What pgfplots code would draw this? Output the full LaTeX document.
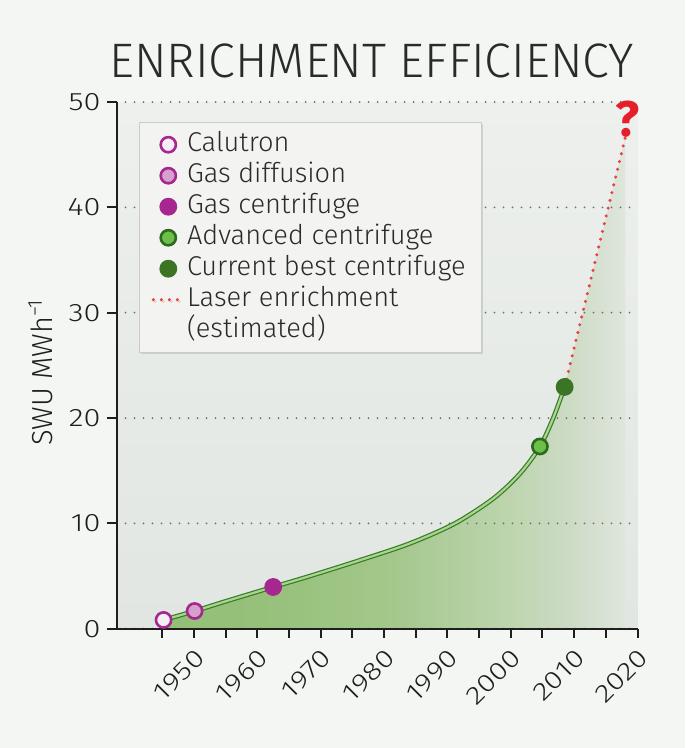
\documentclass[border=0pt]{standalone}
\usepackage{fontspec}
\setmainfont{Fira Sans}[UprightFont={* Light}, BoldFont={* Bold}]
\newfontfamily\tickfont{Fira Sans Light}[FakeStretch=1.22]
\usepackage{pgfplots}
\pgfplotsset{compat=1.18}
\usetikzlibrary{shadows}
\definecolor{pagebg}{HTML}{F4F6F3}
\definecolor{plottop}{HTML}{EDF0ED}
\definecolor{plotbot}{HTML}{E1E6E2}
\definecolor{g0}{HTML}{93BF77}
\definecolor{g1}{HTML}{97C17C}
\definecolor{g2}{HTML}{A4C88C}
\definecolor{g3}{HTML}{BDD5AE}
\definecolor{g4}{HTML}{CDDBC5}
\definecolor{g5}{HTML}{DFE6DD}
\definecolor{cdark}{HTML}{3B7A2A}
\definecolor{clight}{HTML}{A8D68C}
\definecolor{purp}{HTML}{A5278F}
\definecolor{purplight}{HTML}{D5A0CB}
\definecolor{purpwhite}{HTML}{F6EEF6}
\definecolor{advfill}{HTML}{6CC04A}
\definecolor{advdraw}{HTML}{2D6A1F}
\definecolor{bestfill}{HTML}{3B7425}
\definecolor{laser}{HTML}{E8413F}
\definecolor{qmark}{HTML}{E5202A}
\definecolor{gridc}{HTML}{707070}
\definecolor{axc}{HTML}{1E1E1E}
\definecolor{legbg}{HTML}{F3F4F2}
\definecolor{legdraw}{HTML}{C9CCC9}
\definecolor{legtext}{HTML}{2A2A2A}
\pagecolor{pagebg}%
\pgfdeclarehorizontalshading{greenfade}{100bp}{color(0bp)=(g0); color(25bp)=(g0); color(37.5bp)=(g1); color(50bp)=(g2); color(62.5bp)=(g3); color(69bp)=(g4); color(75bp)=(g5); color(100bp)=(g5)}
\pgfplotsset{
  markleg/.style={legend image code/.code={\draw[##1] plot coordinates {(7.5pt,0pt)};}},
  laserleg/.style={legend image code/.code={\draw[##1] (0pt,0pt) -- (14pt,0pt);}},
  laserstyle/.style={draw=laser, line width=1.7pt, line cap=round, dash pattern=on 0pt off 4pt},
}
\begin{document}%
\begin{tikzpicture}
\node[anchor=base, font=\fontsize{24.2}{24.2}\selectfont, text=legtext, inner sep=0pt] at (127.5pt,275.35pt) {ENRICHMENT EFFICIENCY};
\begin{axis}[
  set layers,
  at={(0pt,0pt)}, anchor=south west,
  scale only axis, width=260.5pt, height=263.35pt,
  xmin=1937.77, xmax=2020, ymin=0, ymax=50,
  axis x line=bottom, axis y line=left,
  axis line style={-, line width=1pt, draw=axc},
  xtick={1950,1960,...,2020},
  minor xtick={1945,1955,...,2015},
  ytick={0,10,...,50},
  tick align=outside,
  major tick length=4.5pt, minor tick length=4.5pt,
  tick style={line width=1pt, draw=axc},
  xticklabel style={rotate=45, anchor=north east, font=\tickfont\fontsize{12.6}{12.6}\selectfont, text=axc},
  yticklabel style={font=\tickfont\fontsize{12.6}{12.6}\selectfont, text=axc},
  /pgf/number format/assume math mode=true,
  /pgf/number format/1000 sep={},
  ymajorgrids,
  major grid style={draw=gridc, line width=1pt, line cap=round, dash pattern=on 0pt off 4.5pt},
  axis background/.style={top color=plottop, bottom color=plotbot},
  ylabel={SWU MWh\textsuperscript{\char"2212 1}},
  every axis y label/.style={at={(axis description cs:-0.123,0.487)}, rotate=90, anchor=base, inner sep=0pt, font=\fontsize{14.5}{14.5}\selectfont, text=axc},
  legend style={
    at={(axis description cs:0.0432,0.962)}, anchor=north west,
    fill=legbg, draw=legdraw, line width=0.6pt,
    drop shadow={shadow xshift=0.8pt, shadow yshift=-0.8pt, opacity=0.25},
    inner xsep=6pt, inner ysep=3.3pt,
    font=\fontsize{13.6}{15.5}\selectfont, text=legtext,
    nodes={text height=9.6pt, text depth=3pt, inner ysep=1.45pt},
    row sep=0pt,
  },
  legend cell align=left,
  clip=false,
]
% green area under the curve
\addplot[draw=none, shade, shading=greenfade, on layer=axis background, smooth, forget plot] coordinates {
 (1945.2,0.83) (1950.1,1.68) (1955,2.6) (1962.5,3.96) (1968.3,5.0) (1976.2,6.5) (1984.1,8.1) (1991.2,10.0) (1997.3,12.38) (2001.5,14.76) (2004.6,17.3) (2006.7,20.0) (2008.5,22.95) (2018.1,46.7)
} \closedcycle;
% efficiency curve
\addplot[smooth, draw=cdark, line width=0.6pt, double=clight, double distance=1.1pt, forget plot] coordinates {
 (1945.2,0.83) (1950.1,1.68) (1955,2.6) (1962.5,3.96) (1968.3,5.0) (1976.2,6.5) (1984.1,8.1) (1991.2,10.0) (1997.3,12.38) (2001.5,14.76) (2004.6,17.3) (2006.7,20.0) (2008.5,22.95)
};
% laser enrichment estimate
\addplot[laserstyle, forget plot] coordinates {(2008.5,22.95) (2018.1,46.7)};
% technologies
\addplot[only marks, mark=*, mark size=3.8pt, mark options={draw=purp, fill=purpwhite, line width=1.3pt}, markleg] coordinates {(1945.2,0.83)};
\addlegendentry{Calutron}
\addplot[only marks, mark=*, mark size=3.8pt, mark options={draw=purp, fill=purplight, line width=1.3pt}, markleg] coordinates {(1950.1,1.68)};
\addlegendentry{Gas diffusion}
\addplot[only marks, mark=*, mark size=3.8pt, mark options={draw=purp, fill=purp, line width=1.3pt}, markleg] coordinates {(1962.5,3.96)};
\addlegendentry{Gas centrifuge}
\addplot[only marks, mark=*, mark size=3.8pt, mark options={draw=advdraw, fill=advfill, line width=1.3pt}, markleg] coordinates {(2004.6,17.3)};
\addlegendentry{Advanced centrifuge}
\addplot[only marks, mark=*, mark size=3.8pt, mark options={draw=bestfill, fill=bestfill, line width=1.3pt}, markleg] coordinates {(2008.5,22.95)};
\addlegendentry{Current best centrifuge}
\addlegendimage{laserstyle, laserleg}
\addlegendentry{Laser enrichment}
\addlegendimage{empty legend}
\addlegendentry{(estimated)}
\node[font=\fontsize{25}{25}\bfseries, text=qmark, inner sep=0pt] at (axis cs:2018.5,48.4) {?};
\end{axis}
\pgfresetboundingbox
\path[use as bounding box] (-58.25pt,-59.65pt) rectangle (284.25pt,314.35pt);
\end{tikzpicture}%
\end{document}
